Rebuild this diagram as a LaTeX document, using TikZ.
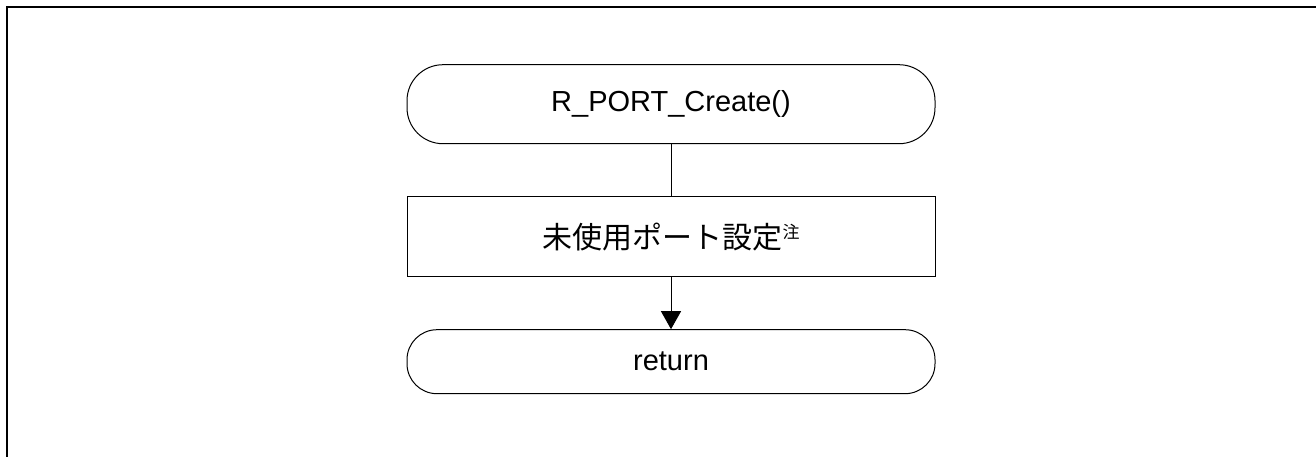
\documentclass[tikz,border=0pt]{standalone}
\usepackage{fontspec}
\setmainfont{Liberation Sans}
\newfontfamily\jpfont{Noto Sans CJK JP}
\usetikzlibrary{matrix,arrows.meta}

\begin{document}
\begin{tikzpicture}[
     x=1pt, y=-1pt,
     % define styles
     term/.style={
         rounded corners=36pt,
         minimum height=79pt
     },
     proc/.style={
         minimum height=80pt
     },
     retn/.style={
         rounded corners=30pt,
         minimum height=64pt
     },
     flow/.style={
         matrix of nodes,
         inner sep=0pt,
         nodes={ draw, line width=1pt, minimum width=528pt, inner sep=0pt,
                 font=\fontsize{29}{34}\selectfont },
         row sep=52pt
     },
     >={Triangle[width=20pt,length=18pt]}
]
\useasboundingbox (0,0) rectangle (1316,457);
% frame round the chart
\draw[line width=2pt] (1316,7.5) -- (7,7.5) -- (7,457);
% define matrix mat to hold the steps
\matrix[flow, anchor=north] (mat) at (671,64)
{
|[term]| R\_PORT\_Create() \\
|[proc]| {\jpfont\fontsize{30}{34}\selectfont 未使用ポート設定\raisebox{10pt}{\fontsize{17}{17}\selectfont 注}} \\
|[retn]| return \\
};
\draw[line width=1pt] (mat-1-1) -- (mat-2-1);
\draw[line width=1pt,->] (mat-2-1) -- (mat-3-1);
\end{tikzpicture}
\end{document}
